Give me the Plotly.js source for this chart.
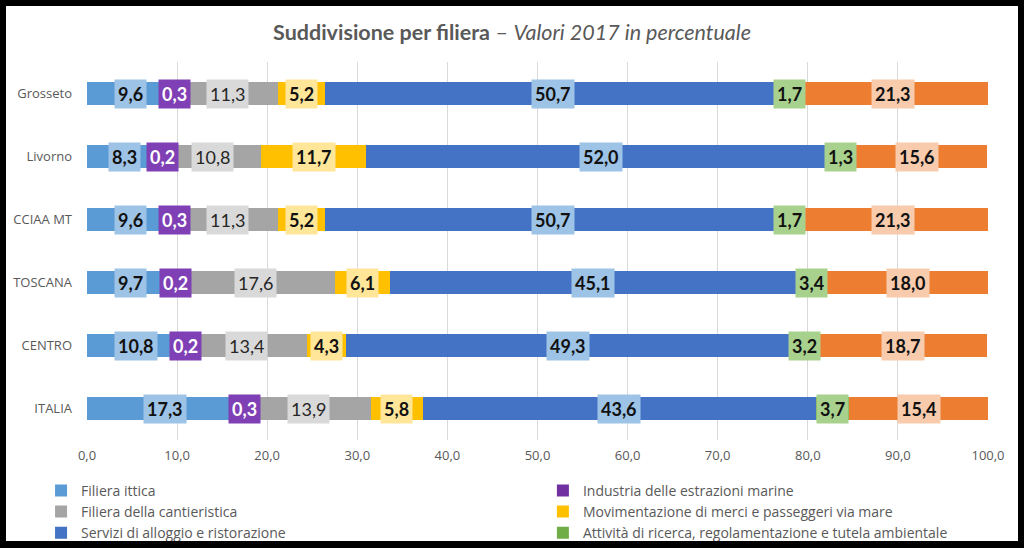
<!DOCTYPE html>
<html>
<head>
<meta charset="utf-8">
<script src="https://cdn.plot.ly/plotly-3.0.1.min.js"></script>
<style>
html,body{margin:0;padding:0;background:#000;width:1024px;height:548px;overflow:hidden;}
#chart{position:absolute;left:6px;top:6px;width:1012px;height:535px;background:#fff;}
</style>
</head>
<body>
<div id="chart"></div>
<script>
// Categories (top to bottom)
const categories = ["Grosseto", "Livorno", "CCIAA MT", "TOSCANA", "CENTRO", "ITALIA"];

// Series values (percent, 2017)
const filieraIttica      = [9.6, 8.3, 9.6, 9.7, 10.8, 17.3];
const estrazioniMarine   = [0.3, 0.2, 0.3, 0.2, 0.2, 0.3];
const cantieristica      = [11.3, 10.8, 11.3, 17.6, 13.4, 13.9];
const movimentazione     = [5.2, 11.7, 5.2, 6.1, 4.3, 5.8];
const serviziAlloggio    = [50.7, 52.0, 50.7, 45.1, 49.3, 43.6];
const ricercaTutela      = [1.7, 1.3, 1.7, 3.4, 3.2, 3.7];
const altro              = [21.3, 15.6, 21.3, 18.0, 18.7, 15.4];

const seriesNames = [
  "Filiera ittica",
  "Industria delle estrazioni marine",
  "Filiera della cantieristica",
  "Movimentazione di merci e passeggeri via mare",
  "Servizi di alloggio e ristorazione",
  "Attività di ricerca, regolamentazione e tutela ambientale",
  "Altro"
];
const seriesValues = [filieraIttica, estrazioniMarine, cantieristica, movimentazione, serviziAlloggio, ricercaTutela, altro];

const barColors   = ["#5B9BD5", "#7030A0", "#A5A5A5", "#FFC000", "#4472C4", "#70AD47", "#ED7D31"];
const boxColors   = ["#9DC3E6", "#8040B5", "#D9D9D9", "#FFE699", "#9DC3E6", "#A9D18E", "#F8CBAD"];
const labelColors = ["#111111", "#FFFFFF", "#262626", "#111111", "#111111", "#111111", "#111111"];
const labelBold   = [true, true, false, true, true, true, true];
// legend column for each series (two-column legend at the bottom)
const legendRef   = ["legend", "legend2", "legend", "legend2", "legend", "legend2", "legend"];

const traces = seriesNames.map((name, i) => ({
  type: "bar",
  orientation: "h",
  name: name,
  y: categories,
  x: seriesValues[i],
  marker: {color: barColors[i]},
  legend: legendRef[i],
  showlegend: i < 6,
  hoverinfo: "x+name"
}));

const annotations = [];
categories.forEach((cat, r) => {
  let cum = 0;
  seriesValues.forEach((vals, i) => {
    const v = vals[r];
    const txt = v.toFixed(1).replace(".", ",");
    annotations.push({
      x: cum + v / 2, y: cat, xref: "x", yref: "y",
      text: labelBold[i] ? "<b>" + txt + "</b>" : txt,
      showarrow: false,
      bgcolor: boxColors[i],
      borderpad: 3,
      font: {family: "Lato, 'Open Sans', sans-serif", size: 18, color: labelColors[i]}
    });
    cum += v;
  });
});

const legendFont = {family: "'Open Sans', Lato, sans-serif", size: 14, color: "#595959"};

const layout = {
  width: 1012, height: 535,
  paper_bgcolor: "#FFFFFF", plot_bgcolor: "#FFFFFF",
  margin: {l: 81, r: 30, t: 56, b: 101, autoexpand: false},
  barmode: "stack",
  bargap: 0.62,
  separators: ",.",
  title: {
    text: "<b>Suddivisione per filiera</b> – <i>Valori 2017 in percentuale</i>",
    font: {family: "Lato, 'Open Sans', sans-serif", size: 21.5, color: "#595959"},
    x: 0.5, xanchor: "center", y: 0.95, yanchor: "middle"
  },
  xaxis: {
    range: [0, 100], dtick: 10, tick0: 0, tickformat: ".1f",
    showgrid: true, gridcolor: "#D9D9D9", gridwidth: 1,
    zeroline: false, showline: false, ticks: "",
    ticklabelstandoff: 6,
    tickfont: {family: "'Open Sans', Lato, sans-serif", size: 13, color: "#595959"},
    fixedrange: true
  },
  yaxis: {
    type: "category", autorange: "reversed",
    showgrid: false, zeroline: false, showline: false, ticks: "",
    ticklabelstandoff: 14,
    tickfont: {family: "'Open Sans', Lato, sans-serif", size: 13, color: "#595959"},
    fixedrange: true
  },
  legend: {
    orientation: "v",
    x: -0.051, xanchor: "left",
    y: -0.092, yanchor: "top",
    traceorder: "normal",
    itemwidth: 30,
    font: legendFont,
    bgcolor: "rgba(0,0,0,0)"
  },
  legend2: {
    orientation: "v",
    x: 0.506, xanchor: "left",
    y: -0.092, yanchor: "top",
    traceorder: "normal",
    itemwidth: 30,
    font: legendFont,
    bgcolor: "rgba(0,0,0,0)"
  },
  annotations: annotations
};

Plotly.newPlot("chart", traces, layout, {displayModeBar: false, staticPlot: true});
</script>
</body>
</html>
